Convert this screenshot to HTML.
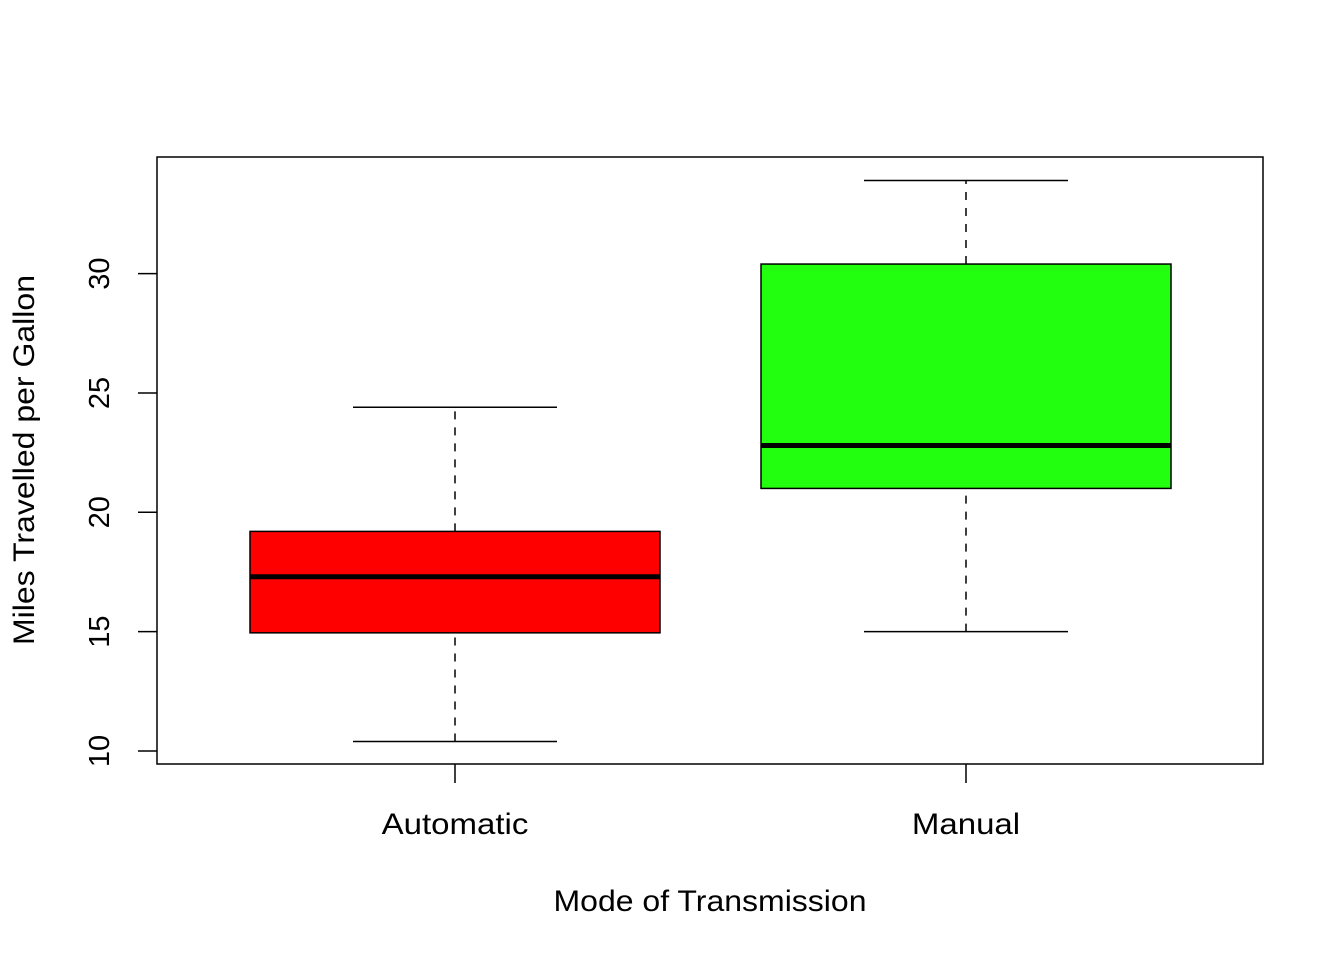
<!DOCTYPE html>
<html><head><meta charset="utf-8"><style>
html,body{margin:0;padding:0;background:#fff;}
svg{display:block;font-family:"Liberation Sans",Arial,sans-serif;}
</style></head><body>
<svg id="chart" width="1344" height="960">
<rect x="157" y="157" width="1106" height="607" fill="none" stroke="#000" stroke-width="1.5"/>
<g id="marks"></g>
<g id="axes"></g>
<text x="710" y="911" font-size="30" text-anchor="middle" textLength="313" lengthAdjust="spacingAndGlyphs">Mode of Transmission</text>
<text transform="translate(34,460) rotate(-90)" font-size="30" text-anchor="middle" textLength="370" lengthAdjust="spacingAndGlyphs">Miles Travelled per Gallon</text>
</svg>
<script>
const categories = ["Automatic", "Manual"];
const mins = [10.4, 15.0];
const q1s = [14.95, 21.0];
const medians = [17.3, 22.8];
const q3s = [19.2, 30.4];
const maxs = [24.4, 33.9];
const colors = ["#ff0000", "#22ff0f"];
const yTicks = [10, 15, 20, 25, 30];

const NS = "http://www.w3.org/2000/svg";
function y(v){ return 751 - (v - 10) * 23.87; }
function x(i){ return 455 + i * 511; }
function mk(tag, attrs, parent){
  const e = document.createElementNS(NS, tag);
  for (const k in attrs) e.setAttribute(k, attrs[k]);
  parent.appendChild(e); return e;
}
const marks = document.getElementById('marks');
const axes = document.getElementById('axes');
const bw = 205, cw = 102;
categories.forEach((c, i) => {
  const cx = x(i);
  const g = mk('g', {}, marks);
  
  
  const w1 = mk('line', {x1:cx, x2:cx, y1:y(mins[i]), y2:y(q1s[i]), stroke:'#000', 'stroke-width':1.5, 'stroke-dasharray':'8,8'}, g);
  
  
  const w2 = mk('line', {x1:cx, x2:cx, y1:y(q3s[i]), y2:y(maxs[i]), stroke:'#000', 'stroke-width':1.5, 'stroke-dasharray':'8,8'}, g);
  
  
  const c1 = mk('line', {x1:cx-cw, x2:cx+cw, y1:y(mins[i]), y2:y(mins[i]), stroke:'#000', 'stroke-width':1.5}, g);
  
  
  const c2 = mk('line', {x1:cx-cw, x2:cx+cw, y1:y(maxs[i]), y2:y(maxs[i]), stroke:'#000', 'stroke-width':1.5}, g);
  
  
  const r = mk('rect', {x:cx-bw, width:2*bw, y:y(q3s[i]), height:y(q1s[i])-y(q3s[i]), fill:colors[i], stroke:'#000', 'stroke-width':1.5}, g);
  
  
  const m = mk('line', {x1:cx-bw, x2:cx+bw, y1:y(medians[i]), y2:y(medians[i]), stroke:'#000', 'stroke-width':5}, g);
  
  
  const t = mk('line', {x1:cx, x2:cx, y1:764, y2:783, stroke:'#000', 'stroke-width':1.5}, axes);
  
  
  const l = mk('text', {x:cx, y:834, 'font-size':30, 'text-anchor':'middle'}, axes);
  l.textContent = c;
  
  
  const natural = l.getComputedTextLength();
  l.setAttribute('textLength', natural * 1.1);
  l.setAttribute('lengthAdjust', 'spacingAndGlyphs');
});
yTicks.forEach(v => {
  const t = mk('line', {x1:138, x2:157, y1:y(v), y2:y(v), stroke:'#000', 'stroke-width':1.5}, axes);
  
  
  const l = mk('text', {transform:`translate(109,${y(v)}) rotate(-90)`, 'font-size':29, 'text-anchor':'middle'}, axes);
  l.textContent = v;
  
  
});
</script>
</body></html>
